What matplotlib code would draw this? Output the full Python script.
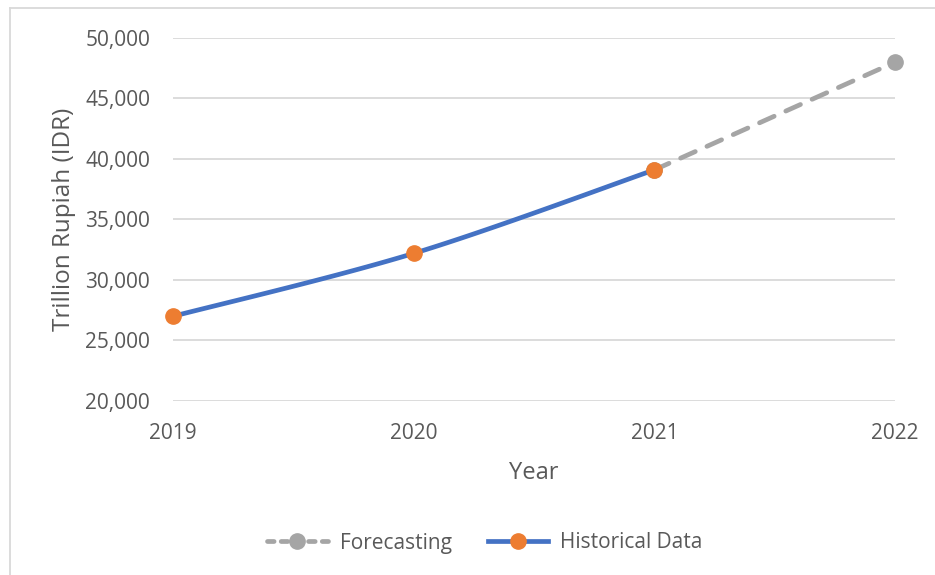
import matplotlib
matplotlib.use("Agg")
import matplotlib.pyplot as plt
import numpy as np
from matplotlib.lines import Line2D

years = [2019, 2020, 2021, 2022]
hist_years = [2019, 2020, 2021]
hist_values = [27000, 32200, 39100]
fc_years = [2021, 2022]
fc_values = [39100, 48000]
yticks = [20000, 25000, 30000, 35000, 40000, 45000, 50000]

plt.rcParams['font.family'] = ['Open Sans', 'DejaVu Sans']
TXT = '#595959'
BLUE = '#4472C4'
ORANGE = '#ED7D31'
GRAY = '#A5A5A5'

fig = plt.figure(figsize=(9.35, 5.75), dpi=100)
ax = fig.add_axes([173/935, 1-401/575, (895-173)/935, (401-38)/575])


def smooth(xs, ys, n=40):
    xs = np.asarray(xs, float); ys = np.asarray(ys, float)
    px = np.concatenate([[xs[0]], xs, [xs[-1]]])
    py = np.concatenate([[ys[0]], ys, [ys[-1]]])
    ox, oy = [], []
    t = np.linspace(0, 1, n)
    for i in range(1, len(px) - 2):
        p0, p1, p2, p3 = [np.array([px[j], py[j]]) for j in (i-1, i, i+1, i+2)]
        c1 = p1 + (p2 - p0) / 6
        c2 = p2 - (p3 - p1) / 6
        b = ((1-t)**3)[:, None]*p1 + (3*(1-t)**2*t)[:, None]*c1 + (3*(1-t)*t**2)[:, None]*c2 + (t**3)[:, None]*p2
        ox.extend(b[:, 0]); oy.extend(b[:, 1])
    return np.array(ox), np.array(oy)

LW = 3.4
MS = 11
# Forecast dashed
ax.plot(fc_years, fc_values, color=GRAY, lw=LW, dashes=(3.4, 2.7),
        dash_capstyle='round', clip_on=False, zorder=3)
ax.plot(fc_years, fc_values, ls='none', marker='o', ms=MS, color=GRAY, clip_on=False, zorder=4)

sx, sy = smooth(hist_years, hist_values)
ax.plot(sx, sy, color=BLUE, lw=LW, solid_capstyle='round', clip_on=False, zorder=5)
ax.plot(hist_years, hist_values, ls='none', marker='o', ms=MS, color=ORANGE, clip_on=False, zorder=6)

ax.set_xlim(2019, 2022)
ax.set_ylim(20000, 50000)
ax.set_xticks(years)
ax.set_xticklabels([str(y) for y in years])
ax.set_yticks(yticks)
ax.set_yticklabels([f"{v:,}" for v in yticks])
ax.tick_params(axis='both', length=0, labelsize=15, colors=TXT)
ax.tick_params(axis='y', pad=16.5)
ax.tick_params(axis='x', pad=16)
ax.grid(axis='y', color='#D9D9D9', lw=1.3)
ax.set_axisbelow(True)
for s in ax.spines.values():
    s.set_visible(False)

ax.set_xlabel('Year', fontsize=17, color=TXT, labelpad=12)
ax.set_ylabel('Trillion Rupiah (IDR)', fontsize=17.5, color=TXT, labelpad=6.5)

h1 = Line2D([0], [0], color=GRAY, lw=LW, dashes=(1.4, 1.5), dash_capstyle='round',
            marker='o', ms=MS, markerfacecolor=GRAY, markeredgecolor=GRAY)
h2 = Line2D([0], [0], color=BLUE, lw=LW, marker='o', ms=MS,
            markerfacecolor=ORANGE, markeredgecolor=ORANGE)
leg = fig.legend([h1, h2], ['Forecasting', 'Historical Data'], loc='center',
                 bbox_to_anchor=(485/935, 1-543/575), ncol=2, frameon=False,
                 fontsize=15, handlelength=2.9, columnspacing=1.7, handletextpad=0.6)
for t in leg.get_texts():
    t.set_color(TXT)

# chart border (left and top visible)
fig.add_artist(Line2D([10/935, 10/935], [0, 1-8/575], transform=fig.transFigure, color='#D9D9D9', lw=1.3))
fig.add_artist(Line2D([10/935, 1], [1-8/575, 1-8/575], transform=fig.transFigure, color='#D9D9D9', lw=1.3))

fig.savefig('out.png', dpi=100)
